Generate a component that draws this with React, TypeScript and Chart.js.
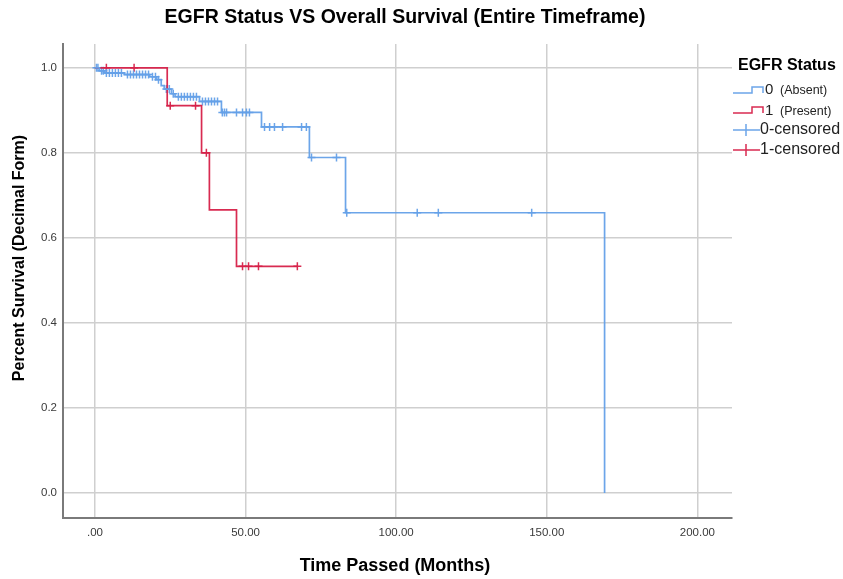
import React, { useEffect, useRef } from "react";
import { Chart, registerables } from "chart.js";
Chart.register(...registerables);

// ---- Data ----
const chartTitle = "EGFR Status VS Overall Survival (Entire Timeframe)";
const xAxisTitle = "Time Passed (Months)";
const yAxisTitle = "Percent Survival (Decimal Form)";
const legendTitle = "EGFR Status";

const xTickValues = [0, 50, 100, 150, 200];
const xTickLabels = [".00", "50.00", "100.00", "150.00", "200.00"];
const yTickValues = [0, 0.2, 0.4, 0.6, 0.8, 1.0];
const yTickLabels = ["0.0", "0.2", "0.4", "0.6", "0.8", "1.0"];

// EGFR absent (0)
const absentEventTimes = [0, 1.5, 3.2, 9.8, 18.2, 20.5, 22.0, 23.0, 25.4, 26.6, 34.7, 42.0, 55.3, 71.2, 83.2, 169.2];
const absentSurvival = [1.0, 0.993, 0.988, 0.984, 0.979, 0.972, 0.958, 0.95, 0.939, 0.932, 0.921, 0.895, 0.861, 0.789, 0.659, 0.0];
const absentCensorTimes = [
  0.5, 1.0, 2.2, 2.8, 3.8, 4.8, 5.8, 6.8, 7.8, 8.8, 10.8, 11.8, 12.8, 13.8, 14.8, 15.8, 16.8, 17.8,
  19.1, 20.1, 21.1, 23.7, 24.7, 26.0, 27.7, 28.7, 29.7, 30.7, 31.7, 32.7, 33.7,
  35.7, 36.7, 37.7, 38.7, 39.7, 40.7, 42.3, 43.0, 43.7, 47.0, 49.0, 50.3, 51.3,
  56.3, 58.0, 59.6, 62.3, 68.6, 70.2, 71.9, 80.2, 83.6, 107.0, 114.0, 145.0,
];

// EGFR present (1)
const presentEventTimes = [0, 24.0, 35.4, 38.0, 47.0, 67.2];
const presentSurvival = [1.0, 0.911, 0.8, 0.666, 0.533, 0.533];
const presentCensorTimes = [3.8, 13.0, 25.0, 33.4, 37.0, 49.0, 51.0, 54.3, 67.2];

const absentLabel = "0";
const absentNote = "(Absent)";
const presentLabel = "1";
const presentNote = "(Present)";
const absentCensorLabel = "0-censored";
const presentCensorLabel = "1-censored";

// ---- Styles ----
const BLUE = "rgba(100,160,232,0.95)";
const RED = "rgba(214,32,72,0.95)";
const FONT = '"Liberation Sans", Arial, Helvetica, sans-serif';

function survivalAt(times: number[], surv: number[], t: number) {
  let s = surv[0];
  for (let i = 0; i < times.length; i++) {
    if (times[i] <= t) s = surv[i];
  }
  return s;
}

const overlayPlugin = {
  id: "overlayTexts",
  afterDraw(chart: any) {
    const ctx = chart.ctx as CanvasRenderingContext2D;
    ctx.save();
    ctx.fillStyle = "#000";
    ctx.textAlign = "center";
    ctx.textBaseline = "middle";
    ctx.font = `bold 19.5px ${FONT}`;
    ctx.fillText(chartTitle, 405, 18);
    ctx.font = `bold 18px ${FONT}`;
    ctx.fillText(xAxisTitle, 395, 566);
    ctx.save();
    ctx.translate(20, 258);
    ctx.rotate(-Math.PI / 2);
    ctx.font = `bold 16px ${FONT}`;
    ctx.fillText(yAxisTitle, 0, 0);
    ctx.restore();

    // Legend
    ctx.textAlign = "left";
    ctx.font = `bold 16px ${FONT}`;
    ctx.fillText(legendTitle, 738, 66);

    const drawStep = (y: number, color: string) => {
      ctx.strokeStyle = color;
      ctx.lineWidth = 1.5;
      ctx.beginPath();
      ctx.moveTo(733, y + 3);
      ctx.lineTo(752, y + 3);
      ctx.lineTo(752, y - 3);
      ctx.lineTo(763, y - 3);
      ctx.lineTo(763, y + 3);
      ctx.stroke();
    };
    const drawCross = (y: number, color: string) => {
      ctx.strokeStyle = color;
      ctx.lineWidth = 1.5;
      ctx.beginPath();
      ctx.moveTo(733, y);
      ctx.lineTo(760, y);
      ctx.moveTo(746, y - 6);
      ctx.lineTo(746, y + 6);
      ctx.stroke();
    };
    ctx.fillStyle = "#222";
    drawStep(90, BLUE);
    ctx.font = `15px ${FONT}`;
    ctx.fillText(absentLabel, 765, 90);
    ctx.font = `12.5px ${FONT}`;
    ctx.fillText(absentNote, 780, 91);
    drawStep(110, RED);
    ctx.font = `15px ${FONT}`;
    ctx.fillText(presentLabel, 765, 111);
    ctx.font = `12.5px ${FONT}`;
    ctx.fillText(presentNote, 780, 112);
    drawCross(130, BLUE);
    ctx.font = `16px ${FONT}`;
    ctx.fillText(absentCensorLabel, 760, 130);
    drawCross(150, RED);
    ctx.fillText(presentCensorLabel, 760, 150);
    ctx.restore();
  },
};

export default function App() {
  const ref = useRef<HTMLCanvasElement | null>(null);
  useEffect(() => {
    if (!ref.current) return;
    const absentLine = absentEventTimes.map((t, i) => ({ x: t, y: absentSurvival[i] }));
    const presentLine = presentEventTimes.map((t, i) => ({ x: t, y: presentSurvival[i] }));
    const absentCens = absentCensorTimes.map((t) => ({ x: t, y: survivalAt(absentEventTimes, absentSurvival, t) }));
    const presentCens = presentCensorTimes.map((t) => ({ x: t, y: survivalAt(presentEventTimes, presentSurvival, t) }));

    const chart = new Chart(ref.current, {
      type: "line",
      data: {
        datasets: [
          {
            label: "0 (Absent)",
            data: absentLine,
            stepped: true,
            borderColor: BLUE,
            borderWidth: 1.7,
            pointRadius: 0,
            fill: false,
          },
          {
            label: "1 (Present)",
            data: presentLine,
            stepped: true,
            borderColor: RED,
            borderWidth: 1.7,
            pointRadius: 0,
            fill: false,
          },
          {
            label: "0-censored",
            data: absentCens,
            showLine: false,
            pointStyle: "cross",
            pointRadius: 4,
            borderColor: BLUE,
            pointBorderColor: BLUE,
            pointBorderWidth: 1.5,
          },
          {
            label: "1-censored",
            data: presentCens,
            showLine: false,
            pointStyle: "cross",
            pointRadius: 4,
            borderColor: RED,
            pointBorderColor: RED,
            pointBorderWidth: 1.5,
          },
        ],
      },
      options: {
        animation: false,
        responsive: true,
        maintainAspectRatio: false,
        layout: { padding: { top: 44, right: 111, left: 0, bottom: 0 } },
        plugins: { legend: { display: false }, tooltip: { enabled: false }, title: { display: false } },
        scales: {
          x: {
            type: "linear",
            min: -10.6,
            max: 211.5,
            afterFit: (s: any) => {
              s.height = 61;
            },
            afterBuildTicks: (s: any) => {
              s.ticks = xTickValues.map((v) => ({ value: v }));
            },
            ticks: {
              padding: 8,
              color: "#3a3a3a",
              font: { family: FONT, size: 11.5 },
              maxRotation: 0,
              autoSkip: false,
              callback: (v: any) => {
                const i = xTickValues.indexOf(Number(v));
                return i >= 0 ? xTickLabels[i] : "";
              },
            },
            grid: { color: "#cfcfcf", lineWidth: 1.5, drawTicks: false },
            border: { color: "#7a7a7a", width: 2 },
          },
          y: {
            type: "linear",
            min: -0.059,
            max: 1.056,
            afterFit: (s: any) => {
              s.width = 63;
            },
            afterBuildTicks: (s: any) => {
              s.ticks = yTickValues.map((v) => ({ value: v }));
            },
            ticks: {
              padding: 6,
              color: "#3a3a3a",
              font: { family: FONT, size: 11.5 },
              autoSkip: false,
              callback: (v: any) => {
                const i = yTickValues.findIndex((t) => Math.abs(t - Number(v)) < 1e-9);
                return i >= 0 ? yTickLabels[i] : "";
              },
            },
            grid: { color: "#cfcfcf", lineWidth: 1.5, drawTicks: false },
            border: { color: "#7a7a7a", width: 2 },
          },
        },
      },
      plugins: [overlayPlugin],
    });
    return () => chart.destroy();
  }, []);

  return (
    <div style={{ position: "fixed", left: 0, top: 0, width: 843, height: 579, background: "#fff" }}>
      <canvas ref={ref} />
    </div>
  );
}
